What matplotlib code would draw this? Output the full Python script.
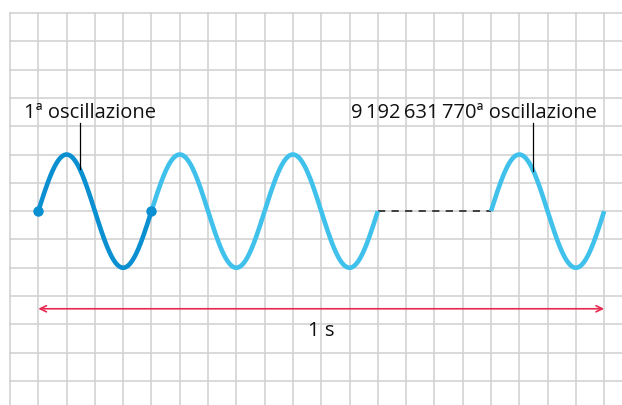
import matplotlib.pyplot as plt
import numpy as np

plt.rcParams['font.family'] = ['Open Sans', 'DejaVu Sans']

# chart content, in grid cells (1 cell = one square of the paper)
cycle_starts = [1, 5, 9, 17]          # where each drawn oscillation begins
cycle_colors = ['#0a8fd0', '#3fc1ec', '#3fc1ec', '#3fc1ec']
period = 4
amplitude = 2
dot_x = [1, 5]                        # markers bounding the first oscillation
gap_x = [13, 17]                      # dashed part (omitted oscillations)
second_span = [1, 21]                 # red arrow: 1 second
labels = ['1ª oscillazione', '9\u2009192\u2009631\u2009770ª oscillazione']
label_x = [0.5, 12.05]
pointer_x = [2.47, 18.5]
span_label = '1 s'

GRID = '#d0d0d0'
fig = plt.figure(figsize=(6.22, 4.06), dpi=100)
ax = fig.add_axes([0, 0, 1, 1])
ax.set_xlim(-0.353, 21.63)
ax.set_ylim(-6.85, 7.495)
ax.axis('off')

# squared paper
for k in range(0, 23):
    ax.plot([k, k], [-7, 7], color=GRID, lw=1.1, zorder=0)
for k in range(-6, 8):
    ax.plot([0, 22], [k, k], color=GRID, lw=1.1, zorder=0)

# oscillations
for x0, c in zip(cycle_starts, cycle_colors):
    t = np.linspace(x0, x0 + period, 200)
    ax.plot(t, amplitude * np.sin(2 * np.pi * (t - x0) / period),
            color=c, lw=3.3, solid_capstyle='butt', zorder=3)
ax.plot(dot_x, [0, 0], 'o', color='#0a8fd0', ms=6.5, zorder=4)
ax.plot(gap_x, [0, 0], color='#333333', lw=1.3, dashes=(4, 3.5), zorder=2)

# labels with pointers
for lx, px, s in zip(label_x, pointer_x, labels):
    ax.text(lx, 3.52, s, fontsize=14.5, color='#111111', va='center', ha='left')
    py = amplitude * np.sin(2 * np.pi * ((px - 1) % period) / period)
    ax.plot([px, px], [3.1, py], color='black', lw=0.9, zorder=5)

# one-second span
ax.annotate('', xy=(second_span[1], -3.45), xytext=(second_span[0], -3.45),
            arrowprops=dict(arrowstyle='<->,head_length=0.45,head_width=0.22',
                            color='#e8294f', lw=1.2, shrinkA=0, shrinkB=0))
ax.text(np.mean(second_span), -4.2, span_label, fontsize=14.5, ha='center',
        va='center', color='#111111')

fig.savefig('out.png', dpi=100, facecolor='white')
